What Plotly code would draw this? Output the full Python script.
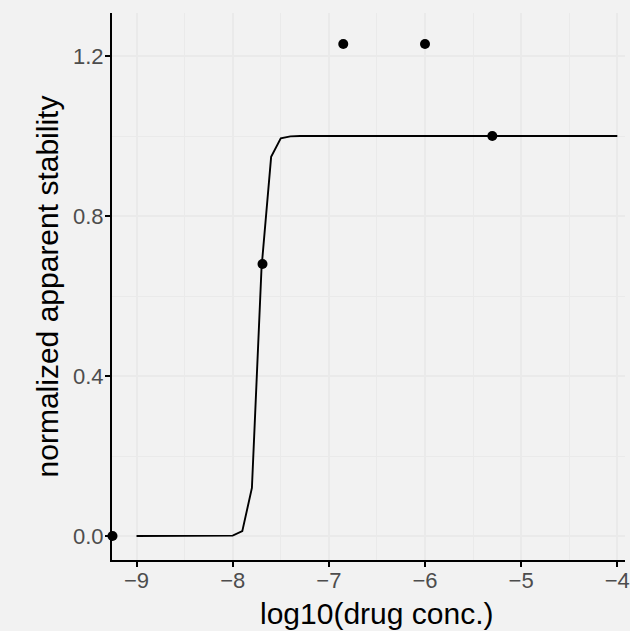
import plotly.graph_objects as go

# Measured stability at each drug concentration (log10 scale)
obs_logconc = [-9.25, -7.69, -6.85, -6.0, -5.3]
obs_stability = [0.0, 0.68, 1.23, 1.23, 1.0]

# Fitted dose-response curve
fit_logconc = [-9.0, -8.1, -8.0, -7.9, -7.8, -7.7, -7.6, -7.5, -7.4, -7.3, -4.0]
fit_stability = [0.0, 0.0, 0.001, 0.012, 0.12, 0.67, 0.948, 0.994, 0.999, 1.0, 1.0]

x_ticks = [-9, -8, -7, -6, -5, -4]
y_ticks = [0.0, 0.4, 0.8, 1.2]
y_tick_text = ["0.0", "0.4", "0.8", "1.2"]

BG = "#F2F2F2"
GRID = "#EAEAEA"
FONT = "Liberation Sans, Arial, Helvetica, sans-serif"

fig = go.Figure()
fig.add_trace(go.Scatter(
    x=fit_logconc, y=fit_stability, mode="lines",
    line=dict(color="black", width=1.9), hoverinfo="skip", showlegend=False,
))
fig.add_trace(go.Scatter(
    x=obs_logconc, y=obs_stability, mode="markers",
    marker=dict(color="black", size=10), cliponaxis=False, showlegend=False,
))

fig.update_layout(
    width=630, height=631,
    margin=dict(l=112, r=0, t=13, b=71),
    paper_bgcolor=BG, plot_bgcolor=BG,
    font=dict(family=FONT, color="black"),
)
fig.update_xaxes(
    range=[-9.255, -3.92], tickvals=x_ticks,
    showline=True, linecolor="black", linewidth=2,
    ticks="outside", ticklen=5, tickwidth=2, tickcolor="black",
    tickfont=dict(size=22, color="#4D4D4D"), ticklabelstandoff=-5,
    ticklabeloverflow="allow",
    showgrid=True, gridcolor=GRID, gridwidth=1.6,
    minor=dict(dtick=0.5, tick0=-9, showgrid=True, gridcolor=GRID, gridwidth=0.9),
    zeroline=False,
)
fig.update_yaxes(
    range=[-0.06, 1.3075], tickvals=y_ticks, ticktext=y_tick_text,
    showline=True, linecolor="black", linewidth=2,
    ticks="outside", ticklen=5, tickwidth=2, tickcolor="black",
    tickfont=dict(size=22, color="#4D4D4D"), ticklabelstandoff=-3,
    showgrid=True, gridcolor=GRID, gridwidth=1.6,
    minor=dict(dtick=0.2, tick0=0, showgrid=True, gridcolor=GRID, gridwidth=0.9),
    zeroline=False,
    title=dict(text="normalized apparent stability", font=dict(size=30, color="black"), standoff=6),
)

# x-axis title, centred on the full (wider) panel
fig.add_annotation(
    text="log10(drug conc.)", xref="paper", yref="paper",
    x=0.5154, y=-0.097, xanchor="center", yanchor="middle",
    showarrow=False, font=dict(size=30, color="black"),
)

fig.write_html("out.html")
